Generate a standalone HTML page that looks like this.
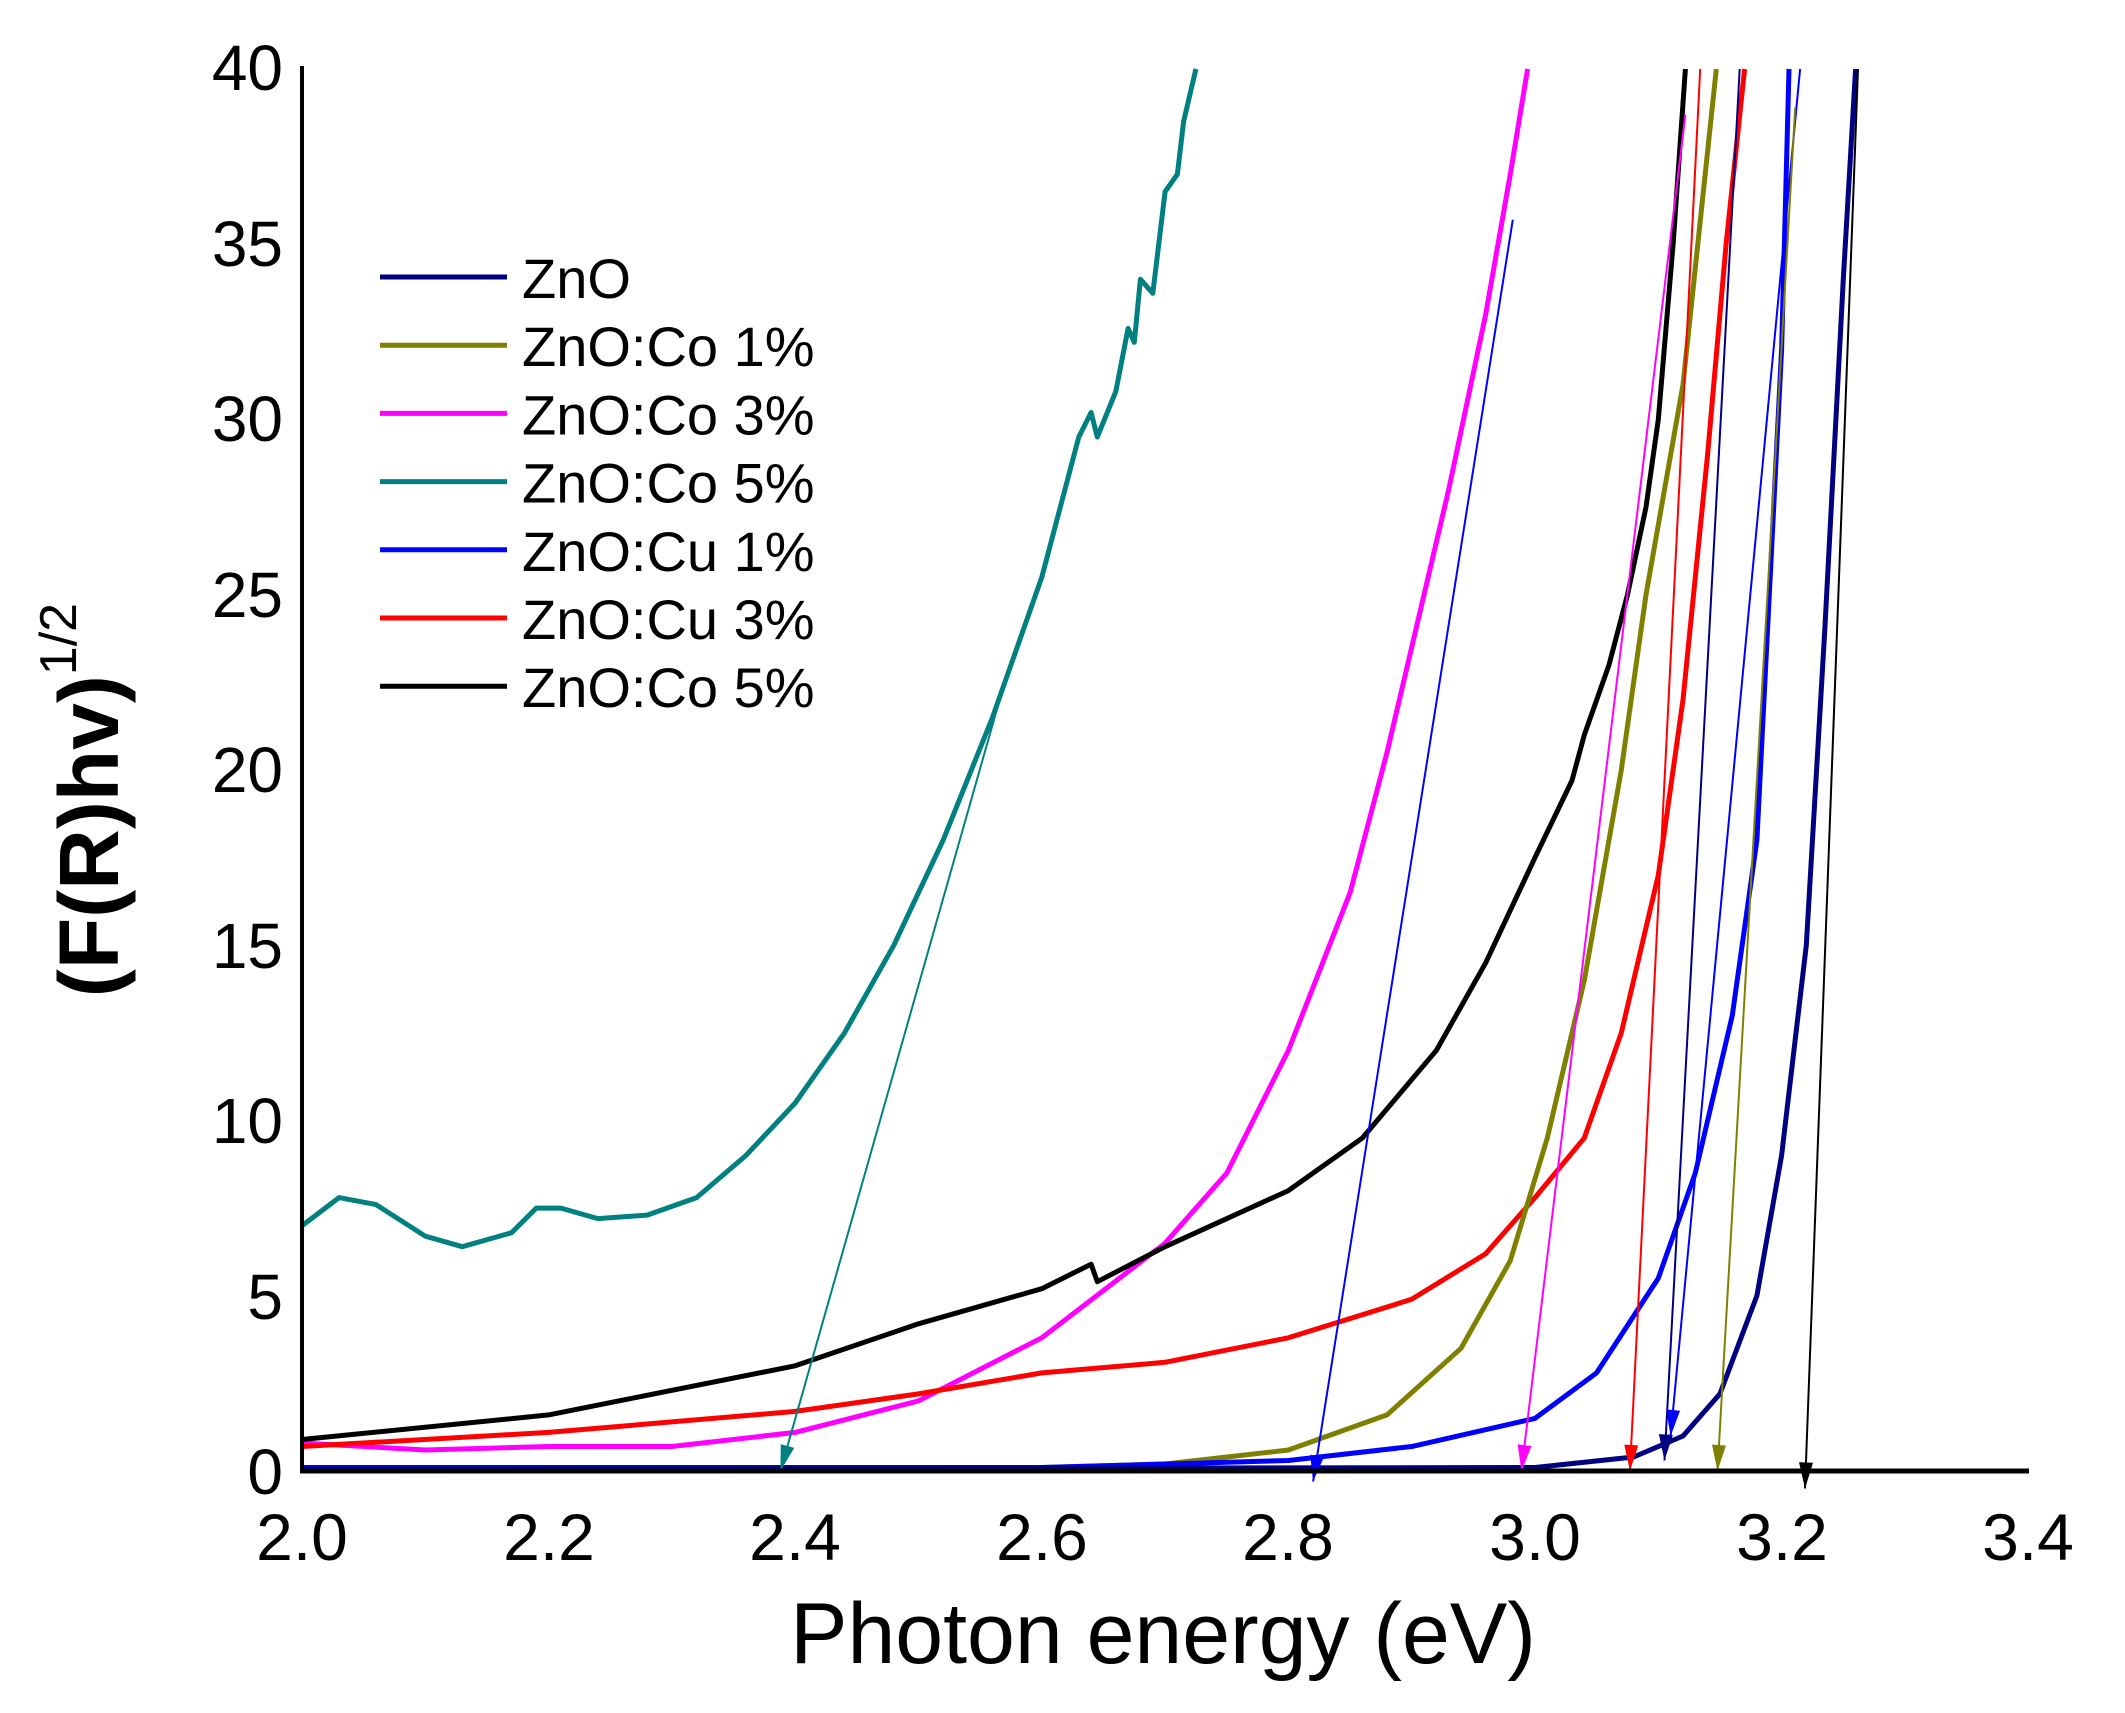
<!DOCTYPE html>
<html><head><meta charset="utf-8"><style>
html,body{margin:0;padding:0;background:#fff;}
svg{display:block;}
text{font-family:"Liberation Sans",Arial,sans-serif;}
</style></head><body>
<svg id="s" width="2125" height="1713" viewBox="0 0 2125 1713" xmlns="http://www.w3.org/2000/svg">
<rect width="2125" height="1713" fill="#fff"/>
<g id="curves"></g>
<line x1="302" y1="66" x2="302" y2="1473" stroke="#000" stroke-width="4"/>
<line x1="300" y1="1471" x2="2029" y2="1471" stroke="#000" stroke-width="5"/>
<g font-size="64" text-anchor="end" fill="#000">
<text x="283" y="1494">0</text><text x="283" y="1319">5</text><text x="283" y="1143">10</text>
<text x="283" y="968">15</text><text x="283" y="792">20</text><text x="283" y="617">25</text>
<text x="283" y="441">30</text><text x="283" y="266">35</text><text x="283" y="90">40</text>
</g>
<g font-size="66" text-anchor="middle" fill="#000">
<text x="302" y="1560">2.0</text><text x="549" y="1560">2.2</text><text x="795" y="1560">2.4</text>
<text x="1042" y="1560">2.6</text><text x="1288" y="1560">2.8</text><text x="1535" y="1560">3.0</text>
<text x="1782" y="1560">3.2</text><text x="2028" y="1560">3.4</text>
</g>
<text x="1163" y="1663" font-size="86" text-anchor="middle">Photon energy (eV)</text>
<text transform="translate(118,800) rotate(-90)" font-size="84" font-weight="bold" text-anchor="middle">(F(R)hv)<tspan font-size="52" font-weight="normal" dy="-42">1/2</tspan></text>
<g id="legend" font-size="56"></g>
</svg>
<script>
var X=function(e){return 302+(e-2)*1233},Y=function(v){return 1471-v*35.05};
var ns="http://www.w3.org/2000/svg";
function path(pts,col,w){var d=pts.map(function(p,i){return (i?"L":"M")+X(p[0]).toFixed(1)+","+Y(p[1]).toFixed(1)}).join(" ");
var e=document.createElementNS(ns,"path");e.setAttribute("d",d);e.setAttribute("fill","none");e.setAttribute("stroke",col);e.setAttribute("stroke-width",w);e.setAttribute("stroke-linejoin","round");document.getElementById("curves").appendChild(e);}
var S=[
["#008080",[[2.0,7],[2.03,7.8],[2.06,7.6],[2.1,6.7],[2.13,6.4],[2.17,6.8],[2.19,7.5],[2.21,7.5],[2.24,7.2],[2.28,7.3],[2.32,7.8],[2.36,9],[2.4,10.5],[2.44,12.5],[2.48,15],[2.52,18],[2.56,21.5],[2.6,25.5],[2.63,29.5],[2.64,30.2],[2.645,29.5],[2.66,30.8],[2.67,32.6],[2.675,32.2],[2.68,34],[2.69,33.6],[2.7,36.5],[2.71,37],[2.715,38.5],[2.725,40]]],
["#ff00ff",[[2.0,0.8],[2.1,0.6],[2.2,0.7],[2.3,0.7],[2.4,1.1],[2.5,2],[2.6,3.8],[2.7,6.5],[2.75,8.5],[2.8,12],[2.85,16.5],[2.88,20.5],[2.9,23.5],[2.93,28],[2.96,33],[2.98,37],[2.994,40]]],
["#000000",[[2.0,0.9],[2.2,1.6],[2.4,3],[2.5,4.2],[2.6,5.2],[2.64,5.9],[2.645,5.4],[2.7,6.4],[2.8,8],[2.86,9.5],[2.92,12],[2.96,14.5],[3.0,17.5],[3.03,19.7],[3.04,21],[3.06,23],[3.075,25],[3.09,27.5],[3.1,30],[3.112,35],[3.122,40]]],
["#ff0000",[[2.0,0.7],[2.2,1.1],[2.4,1.7],[2.5,2.2],[2.6,2.8],[2.7,3.1],[2.8,3.8],[2.9,4.9],[2.96,6.2],[3.0,7.8],[3.04,9.5],[3.07,12.5],[3.1,17],[3.12,22],[3.14,29],[3.155,35],[3.17,40]]],
["#808000",[[2.0,0.1],[2.6,0.1],[2.7,0.2],[2.8,0.6],[2.88,1.6],[2.94,3.5],[2.98,6],[3.01,9.5],[3.04,14],[3.07,20],[3.09,25],[3.12,31],[3.147,40]]],
["#0000ff",[[2.0,0.1],[2.6,0.1],[2.8,0.3],[2.9,0.7],[3.0,1.5],[3.05,2.8],[3.1,5.5],[3.13,8.5],[3.16,13],[3.18,18],[3.19,25],[3.2,32],[3.206,40]]],
["#000080",[[2.0,0.05],[3.0,0.1],[3.08,0.4],[3.12,1],[3.15,2.2],[3.18,5],[3.2,9],[3.22,15],[3.235,24],[3.25,34],[3.26,40]]]
];
S.forEach(function(s){path(s[1],s[0],5)});
var A=[["#008080",2.569,22.4,2.388,0],["#0000ff",2.982,35.7,2.82,-0.3],["#ff00ff",3.122,38.7,2.989,0],["#ff0000",3.134,40,3.077,0],["#000080",3.166,40,3.105,0.3],["#0000ff",3.215,40,3.11,1],["#808000",3.211,38.9,3.148,0],["#000000",3.262,40,3.219,-0.5]];
A.forEach(function(a){var x1=X(a[1]),y1=Y(a[2]),x2=X(a[3]),y2=Y(a[4]);path([[a[1],a[2]],[a[3],a[4]]],a[0],2);
var dx=x2-x1,dy=y2-y1,L=Math.hypot(dx,dy),ux=dx/L,uy=dy/L,bx=x2-ux*26,by=y2-uy*26;
var p=document.createElementNS(ns,"polygon");p.setAttribute("points",x2+","+y2+" "+(bx-uy*7)+","+(by+ux*7)+" "+(bx+uy*7)+","+(by-ux*7));p.setAttribute("fill",a[0]);document.getElementById("curves").appendChild(p);});
var L=[["#000080","ZnO"],["#808000","ZnO:Co 1%"],["#ff00ff","ZnO:Co 3%"],["#008080","ZnO:Co 5%"],["#0000ff","ZnO:Cu 1%"],["#ff0000","ZnO:Cu 3%"],["#000000","ZnO:Co 5%"]];
var g=document.getElementById("legend");
L.forEach(function(l,i){var y=277+i*68.2;var ln=document.createElementNS(ns,"line");ln.setAttribute("x1",380);ln.setAttribute("x2",507);ln.setAttribute("y1",y);ln.setAttribute("y2",y);ln.setAttribute("stroke",l[0]);ln.setAttribute("stroke-width",5);g.appendChild(ln);
var t=document.createElementNS(ns,"text");t.setAttribute("x",522);t.setAttribute("y",y+21);t.textContent=l[1];g.appendChild(t);});
</script>
</body></html>
